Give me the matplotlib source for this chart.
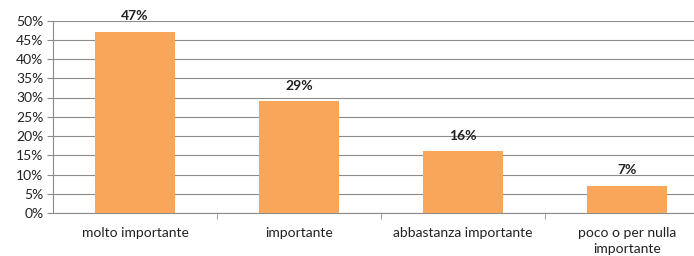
import matplotlib.pyplot as plt
import numpy as np

categories = ['molto importante', 'importante', 'abbastanza importante',
              'poco o per nulla\nimportante']
values = [47, 29, 16, 7]
labels = ['47%', '29%', '16%', '7%']

plt.rcParams['font.family'] = ['Lato', 'DejaVu Sans']

fig = plt.figure(figsize=(6.94, 2.56), dpi=100)
ax = fig.add_axes([53 / 694, 1 - 213 / 256, 656 / 694, (213 - 20.5) / 256])

x = np.arange(len(categories))
bars = ax.bar(x, values, width=0.49, color='#F9A65A', zorder=3)
for b, lab in zip(bars, labels):
    ax.annotate(lab, (b.get_x() + b.get_width() / 2, b.get_height()),
                xytext=(0, 7), textcoords='offset points',
                ha='center', va='bottom', fontsize=10, fontweight='bold',
                color='#222222')

ax.set_xlim(-0.5, len(categories) - 0.5)
ax.set_ylim(0, 50)
ax.set_yticks(np.arange(0, 51, 5))
ax.set_yticklabels([f'{v}%' for v in range(0, 51, 5)])
ax.yaxis.grid(True, color='#8c8c8c', linewidth=0.8, zorder=0)

ax.set_xticks(x)
ax.set_xticklabels(categories, linespacing=1.45)
ax.set_xticks(np.arange(0.5, len(categories) - 0.5, 1), minor=True)
ax.tick_params(axis='x', which='major', length=0, pad=10, labelsize=10,
               colors='#222222')
ax.tick_params(axis='x', which='minor', length=4, color='#8c8c8c')
ax.tick_params(axis='y', length=4, color='#8c8c8c', labelsize=10,
               colors='#222222', pad=3)

for s in ['top', 'right']:
    ax.spines[s].set_visible(False)
for s in ['left', 'bottom']:
    ax.spines[s].set_color('#8c8c8c')
    ax.spines[s].set_linewidth(0.8)

fig.savefig('out.png', dpi=100)
